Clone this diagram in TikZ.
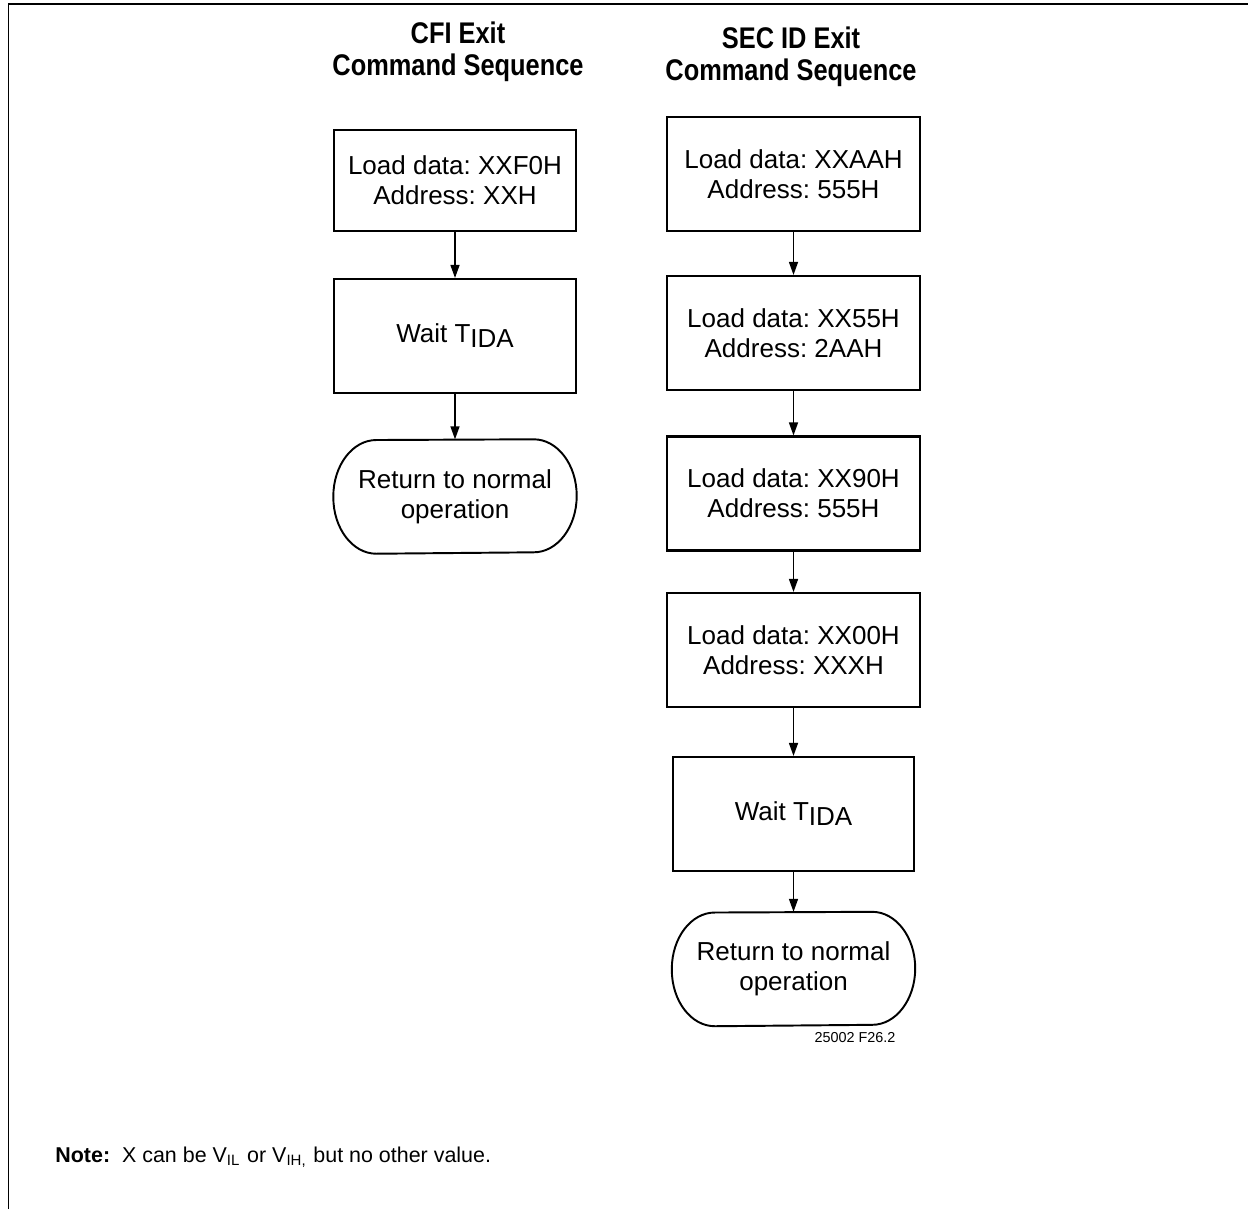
\documentclass[tikz,border=0pt]{standalone}
\usepackage{fontspec}
\setmainfont{Liberation Sans}
\newfontfamily\condfont[FakeStretch=0.85]{Liberation Sans}
\usetikzlibrary{arrows.meta}
\frenchspacing

% lowered subscript used in the wait boxes
\newcommand\lowsub[1]{\raisebox{-1.4pt}{#1}}
% stadium outline around a terminal node
\newcommand\termline[1]{\draw[line width=0.55pt] (#1.west)
    arc[start angle=180, end angle=90, x radius=0.43cm, y radius=0.565cm] -- ([xshift=-0.43cm]#1.north east)
    arc[start angle=90, end angle=-90, x radius=0.43cm, y radius=0.565cm] -- ([xshift=0.43cm]#1.south west)
    arc[start angle=270, end angle=180, x radius=0.43cm, y radius=0.565cm] -- cycle;}

\begin{document}
\begin{tikzpicture}[
    box/.style={draw, line width=0.6pt, minimum width=2.42cm, minimum height=1.14cm, inner sep=0pt,
        align=center, font=\fontsize{7.4}{8.5}\selectfont},
    term/.style={minimum width=2.42cm, minimum height=1.13cm, inner sep=0pt,
        align=center, font=\fontsize{7.4}{8.5}\selectfont},
    title/.style={align=center, font=\condfont\bfseries\fontsize{8.5}{9.1}\selectfont},
    arr/.style={-{Triangle[length=1.3mm,width=0.9mm]}, line width=0.4pt}
]
    \useasboundingbox (0,0) rectangle (12.48,-12.09);
    \draw[line width=0.5pt] (0.085,-12.09) -- (0.085,-0.04) -- (12.48,-0.04);

    % CFI exit
    \node[title] (cfiT) at (4.58,-0.52) {CFI Exit\\Command Sequence};
    \node[box, minimum height=1.01cm] (cfiA) at (4.55,-1.805) {Load data: XXF0H\\Address: XXH};
    \node[box] (cfiB) at (4.55,-3.36) {Wait T\lowsub{IDA}};
    \node[term] (cfiC) at (4.55,-4.965) {Return to normal\\operation};
    \termline{cfiC}
    \draw[arr] (cfiA.south) -- (cfiB.north);
    \draw[arr] (cfiB.south) -- (cfiC.north);

    % SEC ID exit
    \node[title] (secT) at (7.91,-0.565) {SEC ID Exit\\Command Sequence};
    \node[box, minimum width=2.53cm] (secA) at (7.935,-1.74) {Load data: XXAAH\\Address: 555H};
    \node[box, minimum width=2.53cm] (secB) at (7.935,-3.33) {Load data: XX55H\\Address: 2AAH};
    \node[box, minimum width=2.53cm] (secC) at (7.935,-4.935) {Load data: XX90H\\Address: 555H};
    \node[box, minimum width=2.53cm] (secD) at (7.935,-6.5) {Load data: XX00H\\Address: XXXH};
    \node[box, minimum width=2.41cm] (secE) at (7.935,-8.14) {Wait T\lowsub{IDA}};
    \node[term] (secF) at (7.935,-9.69) {Return to normal\\operation};
    \termline{secF}
    \draw[arr] (secA.south) -- (secB.north);
    \draw[arr] (secB.south) -- (secC.north);
    \draw[arr] (secC.south) -- (secD.north);
    \draw[arr] (secD.south) -- (secE.north);
    \draw[arr] (secE.south) -- (secF.north);

    \node[font=\fontsize{4.1}{5}\selectfont] (fig) at (8.55,-10.38) {25002 F26.2};
    \node[anchor=west, font=\fontsize{6.1}{7}\selectfont] (note) at (0.43,-11.57)
        {\textbf{Note:}\ \ X can be V\textsubscript{IL} or V\textsubscript{IH,} but no other value.};
\end{tikzpicture}
\end{document}
